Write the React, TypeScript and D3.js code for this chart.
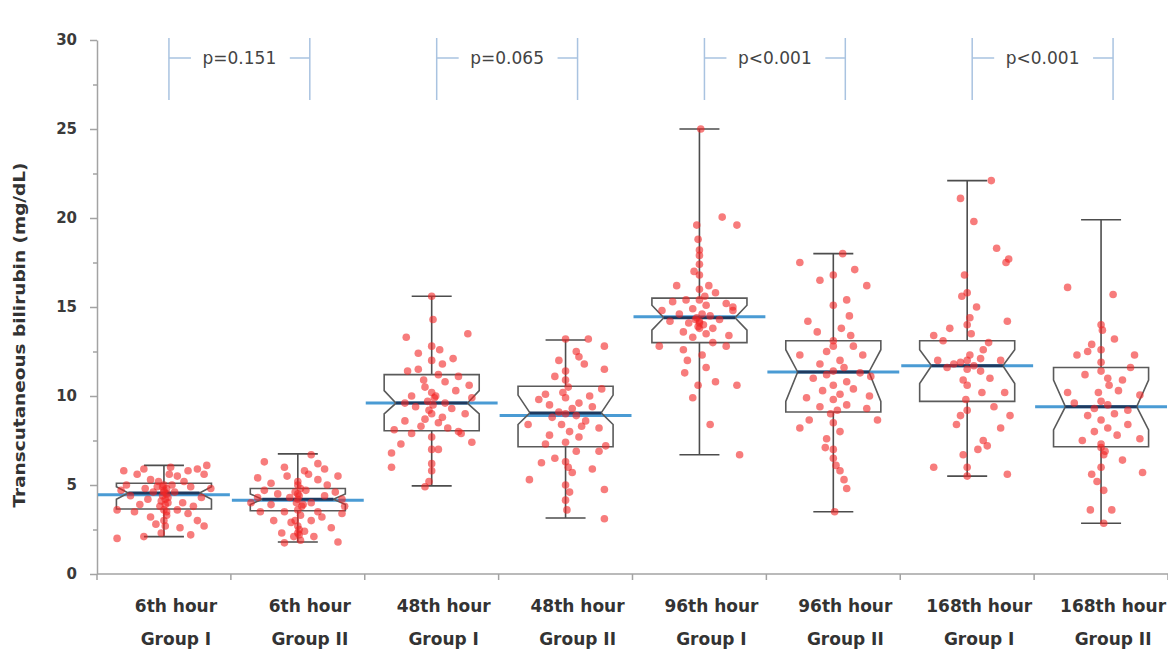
import React, { FC, useEffect, useRef } from "react"
import { select, scaleBand, scaleLinear, axisLeft } from "d3"

// categories
const hourLabels = ["6th hour", "6th hour", "48th hour", "48th hour", "96th hour", "96th hour", "168th hour", "168th hour"]
const groupLabels = ["Group I", "Group II", "Group I", "Group II", "Group I", "Group II", "Group I", "Group II"]

// box summaries (mg/dL)
const whiskerLow = [2.1, 1.8, 4.95, 3.15, 6.7, 3.5, 5.5, 2.85]
const q1 = [3.65, 3.55, 8.05, 7.15, 13.0, 9.1, 9.7, 7.15]
const median = [4.55, 4.2, 9.6, 9.05, 14.4, 11.35, 11.7, 9.4]
const q3 = [5.1, 4.8, 11.2, 10.55, 15.5, 13.1, 13.1, 11.6]
const whiskerHigh = [6.1, 6.75, 15.6, 13.15, 25.0, 18.0, 22.1, 19.9]
const meanValues = [4.45, 4.15, 9.6, 8.9, 14.45, 11.35, 11.7, 9.4]
const notchLow = [4.2, 3.9, 9.0, 8.4, 13.7, 9.7, 10.7, 8.1]
const notchHigh = [4.9, 4.5, 10.3, 10.05, 15.1, 12.6, 12.6, 10.9]

// p-value comparisons
const pPairs = [[0, 1], [2, 3], [4, 5], [6, 7]]
const pLabels = ["p=0.151", "p=0.065", "p<0.001", "p<0.001"]

// individual readings: [jitter (fraction of band), value]
const pts6hG1: [number, number][] = [
  [-0.35, 2.0], [-0.25, 4.4], [-0.2, 5.6], [-0.3, 5.8], [-0.35, 3.6], [-0.15, 5.9], [-0.1, 5.3], [-0.05, 4.9],
  [0, 4.7], [0.02, 4.5], [0.03, 4.3], [-0.02, 4.1], [0.01, 3.9], [0, 3.6], [0.02, 3.3], [0, 3.0], [0.01, 2.7],
  [-0.02, 2.3], [0.05, 6.0], [0.1, 5.5], [0.15, 5.2], [0.2, 4.9], [0.25, 5.9], [0.3, 5.6], [0.28, 4.3],
  [0.22, 3.8], [0.18, 3.4], [0.25, 3.0], [0.3, 2.7], [0.12, 2.6], [0.08, 4.6], [0.06, 5.0], [-0.08, 4.6],
  [-0.12, 4.2], [-0.18, 3.9], [-0.22, 3.5], [-0.28, 5.0], [-0.1, 3.2], [-0.06, 2.8], [0.04, 5.6], [-0.04, 5.2],
  [0.14, 4.0], [0.1, 3.6], [-0.14, 4.8], [0.18, 5.8], [0.02, 4.8], [-0.01, 4.4], [0.03, 4.0], [-0.03, 3.8],
  [0, 5.0], [0.35, 4.8], [0.32, 6.1], [-0.32, 4.7], [0.2, 2.2], [-0.15, 2.1], [0, 4.6], [0.01, 4.2],
  [-0.01, 4.9], [0.02, 3.5],
]
const pts6hG2: [number, number][] = [
  [0.1, 6.7], [-0.25, 6.3], [-0.1, 6.0], [0.05, 5.8], [0.2, 5.9], [0.3, 5.5], [-0.3, 5.4], [-0.2, 5.1],
  [0.15, 5.3], [0, 5.2], [0, 5.0], [0.02, 4.8], [-0.02, 4.6], [0.01, 4.4], [0, 4.2], [-0.01, 4.0], [0.03, 3.8],
  [0, 3.6], [0.02, 3.3], [-0.02, 3.0], [0, 2.7], [0.01, 2.5], [0, 2.3], [-0.03, 2.1], [0.02, 1.9], [-0.1, 1.75],
  [0.3, 1.8], [0.25, 2.6], [0.33, 3.4], [0.35, 3.8], [0.33, 4.2], [0.28, 4.6], [0.2, 4.4], [0.1, 4.0],
  [0.15, 3.5], [0.1, 3.0], [-0.1, 3.5], [-0.2, 3.9], [-0.3, 4.3], [-0.35, 4.0], [-0.25, 4.7], [-0.15, 4.5],
  [-0.08, 5.5], [0.08, 5.6], [-0.05, 2.9], [0.05, 2.4], [-0.12, 2.3], [0.12, 2.1], [0.18, 3.2], [-0.18, 3.0],
  [0.22, 5.0], [-0.28, 3.5], [0.06, 4.7], [-0.06, 4.3], [0.04, 3.9], [0.15, 6.2], [0, 4.5], [0.01, 2.2],
]
const pts48hG1: [number, number][] = [
  [0, 15.6], [0.01, 14.3], [-0.19, 13.3], [0.27, 13.5], [0, 12.8], [-0.1, 12.4], [0.16, 12.1], [0, 12.0],
  [-0.18, 11.4], [-0.1, 11.5], [0.05, 11.2], [0.2, 11.1], [0.28, 10.6], [0.1, 10.8], [-0.05, 10.5], [0, 10.2],
  [0.02, 9.9], [-0.03, 9.7], [0.01, 9.5], [0.1, 9.6], [0.15, 9.3], [-0.12, 9.4], [-0.2, 9.6], [0.25, 9.0],
  [0, 9.0], [-0.05, 8.7], [0.05, 8.5], [-0.08, 8.3], [0.12, 8.2], [0.2, 8.0], [-0.28, 8.1], [-0.15, 7.9],
  [0.3, 7.4], [-0.23, 7.3], [0, 7.7], [0, 7.0], [0.05, 7.0], [-0.3, 6.8], [-0.3, 6.0], [0, 6.2], [0, 5.8],
  [-0.02, 5.2], [-0.05, 4.9], [0.08, 11.8], [-0.06, 10.9], [0.18, 10.3], [-0.15, 10.0], [0.08, 8.8],
  [-0.2, 8.6], [0.3, 9.9], [0.22, 7.9], [0.03, 10.0], [-0.02, 9.2], [0.06, 12.6],
]
const pts48hG2: [number, number][] = [
  [0, 13.2], [0.17, 13.2], [0.29, 12.8], [0.08, 12.5], [0.14, 11.8], [0.29, 11.5], [-0.08, 11.1], [0.27, 10.4],
  [0, 11.4], [0, 10.9], [0.02, 10.5], [-0.02, 10.2], [0, 9.9], [-0.15, 10.1], [-0.2, 9.8], [0.1, 9.6],
  [0.2, 9.4], [0.05, 9.3], [-0.05, 9.1], [0, 9.0], [0.08, 8.9], [-0.1, 8.8], [-0.28, 8.4], [0.15, 8.6],
  [0.25, 8.2], [-0.03, 8.4], [0.03, 8.0], [0.1, 7.7], [-0.12, 7.8], [0, 7.4], [0.3, 7.2], [0.25, 6.9],
  [0.08, 6.9], [-0.08, 6.5], [0, 6.3], [-0.18, 6.25], [0.02, 6.0], [0.05, 5.7], [-0.27, 5.3], [0, 5.0],
  [0.03, 4.6], [0, 4.15], [0.01, 3.6], [0.29, 4.75], [0.29, 3.1], [-0.12, 9.5], [0.18, 10.0], [0.12, 8.3],
  [-0.15, 7.3], [0.2, 5.9], [-0.05, 12.0], [0.1, 12.2],
]
const pts96hG1: [number, number][] = [
  [0.01, 25.0], [0.17, 20.05], [0.28, 19.6], [-0.02, 19.6], [-0.01, 18.8], [0, 17.9], [0, 17.4], [-0.17, 16.2],
  [0, 16.8], [0.07, 16.2], [0.12, 15.8], [-0.2, 15.3], [-0.1, 15.4], [0, 15.4], [0.05, 15.1], [0.2, 15.2],
  [0.25, 15.0], [-0.28, 14.8], [-0.05, 14.9], [0.02, 14.6], [-0.02, 14.4], [0, 14.2], [0.03, 14.0],
  [-0.03, 14.3], [-0.08, 14.1], [0.08, 14.5], [0.15, 14.3], [-0.15, 14.6], [0, 13.8], [0.05, 13.5],
  [-0.05, 13.3], [0.1, 13.0], [0.22, 13.4], [0.2, 12.8], [-0.3, 12.8], [-0.12, 12.6], [-0.09, 12.0],
  [-0.11, 11.3], [0.05, 11.6], [0.12, 10.8], [0.28, 10.6], [-0.01, 10.6], [-0.05, 9.9], [0.08, 8.4],
  [0.3, 6.7], [0, 16.0], [0.04, 15.6], [-0.04, 17.0], [0, 18.2], [-0.22, 14.2], [0.25, 14.8], [0.1, 13.8],
  [-0.12, 13.6], [0.02, 12.3], [0, 14.1], [-0.01, 13.9],
]
const pts96hG2: [number, number][] = [
  [-0.25, 17.5], [0.07, 18.0], [-0.1, 16.5], [0, 16.8], [0.16, 17.1], [0.25, 16.2], [0.1, 15.4], [0.12, 14.5],
  [0, 15.1], [-0.19, 14.2], [0.13, 13.4], [0, 13.1], [-0.25, 12.3], [0.22, 12.3], [-0.05, 12.5], [0, 12.8],
  [0.05, 12.0], [-0.1, 11.8], [0.08, 11.6], [0, 11.4], [-0.05, 11.2], [0.2, 11.3], [0.28, 11.1], [-0.15, 11.0],
  [0.1, 10.8], [0, 10.6], [-0.08, 10.3], [0.05, 10.1], [0.15, 10.4], [0.27, 10.0], [-0.2, 9.9], [0, 9.8],
  [0.1, 9.5], [-0.1, 9.4], [0.03, 9.2], [0.25, 9.3], [-0.25, 8.2], [-0.18, 8.65], [0.33, 8.65], [-0.06, 7.1],
  [0, 7.0], [0, 6.5], [0.02, 6.1], [0.05, 5.8], [0.08, 5.3], [0.1, 4.8], [0.01, 3.5], [-0.05, 7.6], [0.05, 8.0],
  [0, 8.5], [0.15, 12.8], [-0.12, 13.6], [0.06, 13.8], [-0.02, 9.0],
]
const pts168hG1: [number, number][] = [
  [0.18, 22.1], [-0.05, 21.1], [0.05, 19.8], [0.22, 18.3], [0.29, 17.5], [0.31, 17.7], [0, 15.8], [-0.04, 15.6],
  [0.07, 15.0], [0.02, 14.4], [0.3, 14.2], [-0.25, 13.4], [-0.13, 13.8], [-0.18, 13.1], [0.16, 13.0],
  [-0.22, 12.0], [0, 12.0], [0.02, 12.3], [-0.05, 11.9], [0.05, 11.7], [0, 11.5], [-0.1, 11.8], [0.1, 12.1],
  [0.25, 12.0], [0.17, 11.0], [0.11, 10.2], [0.28, 10.2], [-0.01, 9.8], [0, 10.6], [-0.03, 10.9], [0.32, 8.9],
  [-0.05, 8.9], [0.25, 8.2], [0.12, 7.5], [0.08, 7.0], [-0.03, 6.7], [-0.25, 6.0], [0, 6.0], [0.3, 5.6],
  [0, 5.5], [0.15, 7.2], [0.1, 11.4], [-0.15, 11.6], [0, 9.2], [0.2, 9.4], [-0.08, 8.4], [0.03, 13.5],
  [0, 14.0], [-0.02, 16.8], [0.12, 12.6],
]
const pts168hG2: [number, number][] = [
  [-0.25, 16.1], [0.09, 15.7], [0, 14.0], [0.01, 13.7], [-0.07, 12.9], [0.1, 13.2], [-0.18, 12.3], [-0.1, 12.5],
  [0.25, 12.3], [0, 11.9], [0, 11.4], [0.05, 11.0], [0.16, 10.9], [-0.25, 10.2], [-0.02, 10.2], [0.13, 10.3],
  [0.29, 10.05], [0.05, 9.5], [0, 9.7], [-0.05, 9.3], [0.2, 9.2], [0.1, 9.0], [-0.1, 8.9], [0, 8.65],
  [0.05, 8.2], [0.12, 7.8], [0.29, 7.6], [-0.14, 7.5], [0, 7.1], [0, 7.3], [0.03, 6.9], [0.02, 6.7],
  [0.16, 6.4], [0.31, 5.7], [-0.07, 5.6], [0.02, 4.7], [-0.08, 3.6], [0.08, 3.6], [0.02, 2.85], [0, 6.0],
  [-0.05, 8.0], [0.2, 8.4], [-0.2, 9.6], [0.06, 10.6], [-0.12, 11.2], [0, 12.6], [0.22, 11.6], [-0.03, 5.2],
]
const pointSets = [pts6hG1, pts6hG2, pts48hG1, pts48hG2, pts96hG1, pts96hG2, pts168hG1, pts168hG2]

const yTicks = [0, 5, 10, 15, 20, 25, 30]
const yMinorTicks = [2.5, 7.5, 12.5, 17.5, 22.5, 27.5]

const App: FC = () => {
  const wrapperRef = useRef<HTMLDivElement>(null)

  useEffect(() => {
    if (wrapperRef.current) {
      select(wrapperRef.current).selectAll("*").remove()
      drawChart(wrapperRef.current)
    }
  }, [])

  const drawChart = (node: HTMLDivElement) => {
    const width = 1168
    const height = 658
    const margins = { top: 40, right: 0, bottom: 84, left: 97 }
    const font = "'DejaVu Sans', Verdana, sans-serif"
    const axisColor = "#a3a3a3"

    const svg = select(node)
      .append("svg")
      .attr("width", width)
      .attr("height", height)
      .style("display", "block")
      .style("background", "#fff")

    const categories = hourLabels.map((h, i) => `${h} ${groupLabels[i]}`)

    // scales
    const xScale = scaleBand<string>()
      .domain(categories)
      .range([margins.left, width - margins.right])
    const yScale = scaleLinear().domain([0, 30]).range([height - margins.bottom, margins.top])
    const bw = xScale.bandwidth()
    const y0 = yScale(0)

    // y axis
    const yAxis = svg.append("g").attr("transform", `translate(${margins.left},0)`)
    yAxis.call(axisLeft(yScale).tickValues(yTicks).tickSize(7).tickSizeOuter(0).tickPadding(13))
    yAxis.select(".domain").attr("stroke", axisColor).attr("stroke-width", 1.5)
    yAxis.selectAll(".tick line").attr("stroke", axisColor).attr("stroke-width", 1.5)
    yAxis
      .selectAll(".tick text")
      .attr("fill", "#3a3a3a")
      .style("font-family", font)
      .style("font-size", "15px")
      .style("font-weight", "bold")
    const yMinor = svg.append("g").attr("transform", `translate(${margins.left},0)`)
    yMinor.call(axisLeft(yScale).tickValues(yMinorTicks).tickSize(4).tickSizeOuter(0).tickFormat(() => ""))
    yMinor.select(".domain").remove()
    yMinor.selectAll(".tick line").attr("stroke", axisColor).attr("stroke-width", 1.5)

    svg
      .append("text")
      .attr("transform", `translate(25,${(margins.top + y0) / 2 + 28}) rotate(-90)`)
      .attr("text-anchor", "middle")
      .attr("textLength", 345)
      .attr("lengthAdjust", "spacingAndGlyphs")
      .attr("fill", "#333")
      .style("font-family", font)
      .style("font-size", "16px")
      .style("font-weight", "bold")
      .text("Transcutaneous bilirubin (mg/dL)")

    // x axis
    svg
      .append("line")
      .attr("x1", margins.left)
      .attr("x2", width)
      .attr("y1", y0)
      .attr("y2", y0)
      .attr("stroke", axisColor)
      .attr("stroke-width", 1.5)
    svg
      .append("g")
      .selectAll("line")
      .data([...categories.map((c) => xScale(c) ?? 0), width - margins.right])
      .join("line")
      .attr("x1", (d) => d)
      .attr("x2", (d) => d)
      .attr("y1", y0)
      .attr("y2", y0 + 6)
      .attr("stroke", axisColor)
      .attr("stroke-width", 1.5)

    const labels = svg.append("g").attr("fill", "#333").style("font-family", font).style("font-size", "17px").style("font-weight", "bold")
    categories.forEach((c, i) => {
      const cx = (xScale(c) ?? 0) + bw / 2 + 12
      labels.append("text").attr("x", cx).attr("y", 612).attr("text-anchor", "middle").text(hourLabels[i])
      labels.append("text").attr("x", cx).attr("y", 645).attr("text-anchor", "middle").text(groupLabels[i])
    })

    // boxes
    const boxHalf = bw * 0.355
    const inset = boxHalf * 0.25
    const capHalf = 20
    const boxes = svg.append("g")
    categories.forEach((c, i) => {
      const band = xScale(c) ?? 0
      const cx = band + bw / 2
      const l = cx - boxHalf
      const r = cx + boxHalf

      // mean line
      boxes
        .append("line")
        .attr("x1", band + 1)
        .attr("x2", band + bw - 1)
        .attr("y1", yScale(meanValues[i]))
        .attr("y2", yScale(meanValues[i]))
        .attr("stroke", "#4a9bd4")
        .attr("stroke-width", 3)

      // whiskers
      const wg = boxes.append("g").attr("stroke", "#4d4d4d").attr("stroke-width", 1.6)
      wg.append("line").attr("x1", cx).attr("x2", cx).attr("y1", yScale(whiskerHigh[i])).attr("y2", yScale(q3[i]))
      wg.append("line").attr("x1", cx).attr("x2", cx).attr("y1", yScale(q1[i])).attr("y2", yScale(whiskerLow[i]))
      wg.append("line").attr("x1", cx - capHalf).attr("x2", cx + capHalf).attr("y1", yScale(whiskerHigh[i])).attr("y2", yScale(whiskerHigh[i]))
      wg.append("line").attr("x1", cx - capHalf).attr("x2", cx + capHalf).attr("y1", yScale(whiskerLow[i])).attr("y2", yScale(whiskerLow[i]))

      // notched box
      const path = [
        [l, yScale(q3[i])],
        [r, yScale(q3[i])],
        [r, yScale(notchHigh[i])],
        [r - inset, yScale(median[i])],
        [r, yScale(notchLow[i])],
        [r, yScale(q1[i])],
        [l, yScale(q1[i])],
        [l, yScale(notchLow[i])],
        [l + inset, yScale(median[i])],
        [l, yScale(notchHigh[i])],
      ]
      boxes
        .append("path")
        .attr("d", "M" + path.map((p) => p.join(",")).join("L") + "Z")
        .attr("fill", "none")
        .attr("stroke", "#5a5a5a")
        .attr("stroke-width", 1.6)

      // median
      boxes
        .append("line")
        .attr("x1", l + inset)
        .attr("x2", r - inset)
        .attr("y1", yScale(median[i]))
        .attr("y2", yScale(median[i]))
        .attr("stroke", "#1f3a5f")
        .attr("stroke-width", 3)
    })

    // points
    const points = svg.append("g")
    pointSets.forEach((set, i) => {
      const cx = (xScale(categories[i]) ?? 0) + bw / 2
      points
        .selectAll(null)
        .data(set)
        .join("circle")
        .attr("cx", (d) => cx + d[0] * bw)
        .attr("cy", (d) => yScale(d[1]))
        .attr("r", 3.8)
        .attr("fill", "#f22525")
        .attr("fill-opacity", 0.6)
    })

    // p-value brackets
    const brackets = svg.append("g")
    pPairs.forEach(([a, b], i) => {
      const x1 = (xScale(categories[a]) ?? 0) + bw / 2 + 5
      const x2 = (xScale(categories[b]) ?? 0) + bw / 2 + 12
      const yTop = 38
      const yBot = 100
      const yMid = 58
      const g = brackets.append("g").attr("stroke", "#a9c3e0").attr("stroke-width", 1.5)
      g.append("line").attr("x1", x1).attr("x2", x1).attr("y1", yTop).attr("y2", yBot)
      g.append("line").attr("x1", x2).attr("x2", x2).attr("y1", yTop).attr("y2", yBot)
      g.append("line").attr("x1", x1).attr("x2", x1 + 22).attr("y1", yMid).attr("y2", yMid)
      g.append("line").attr("x1", x2 - 20).attr("x2", x2).attr("y1", yMid).attr("y2", yMid)
      brackets
        .append("text")
        .attr("x", (x1 + x2) / 2)
        .attr("y", yMid)
        .attr("dy", "0.35em")
        .attr("text-anchor", "middle")
        .attr("fill", "#444")
        .style("font-family", font)
        .style("font-size", "17px")
        .text(pLabels[i])
    })
  }

  return <div ref={wrapperRef} id="wrapper" style={{ position: "absolute", left: 0, top: 0 }} />
}

export default App
